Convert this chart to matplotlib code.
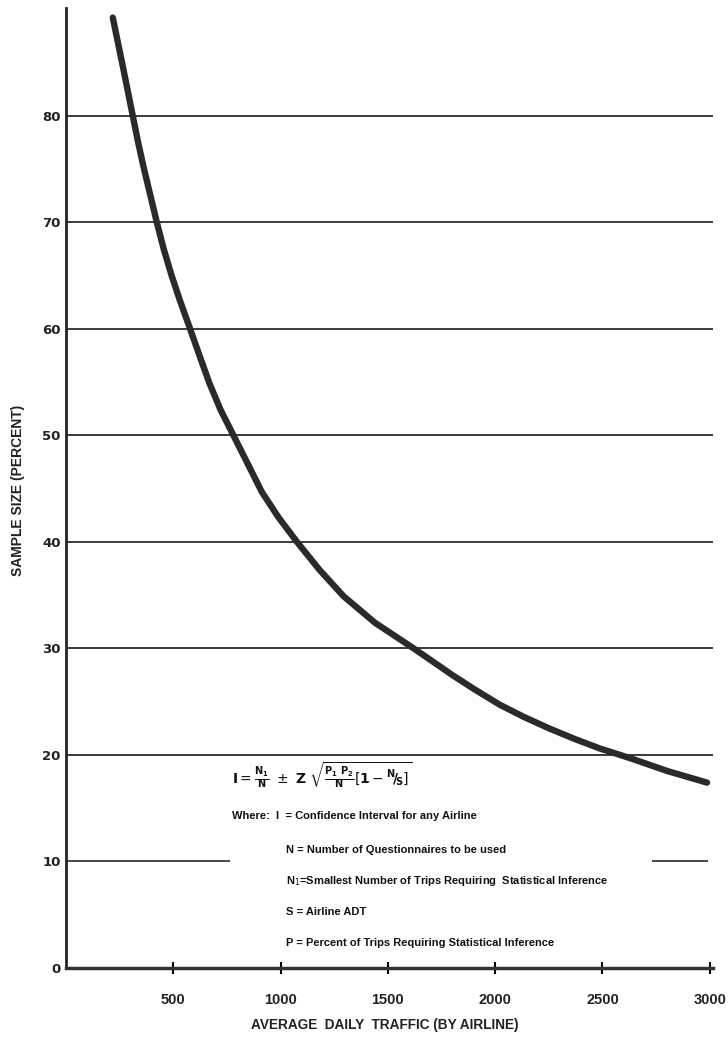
import matplotlib
matplotlib.use("Agg")
import matplotlib.pyplot as plt


# =========================
# 数据
# =========================

traffic = [218, 264, 311, 335, 360, 423, 455, 492, 530, 578, 620, 668,
           720, 780, 840, 912, 990, 1076, 1180, 1293, 1440, 1620, 1800,
           1900, 2022, 2130, 2250, 2370, 2488, 2582, 2650, 2800, 2987]
sample_size = [89.2, 84.7, 80, 77.6, 75.3, 70, 67.5, 65, 62.7, 60, 57.6,
               54.9, 52.4, 50, 47.6, 44.7, 42.3, 40, 37.4, 34.9, 32.4, 30,
               27.5, 26.2, 24.7, 23.6, 22.5, 21.5, 20.6, 20, 19.55, 18.5,
               17.4]

grid_levels = [20, 30, 40, 50, 60, 70, 80]
# 10% 线只画了两段
grid10_segments = [(0, 764), (2731, 2990)]

x_ticks = [500, 1000, 1500, 2000, 2500, 3000]
y_ticks = [0, 10, 20, 30, 40, 50, 60, 70, 80]

notes = [
    "Where:  I  = Confidence Interval for any Airline",
    "N = Number of Questionnaires to be used",
    "N$_1$=Smallest Number of Trips Requiring  Statistical Inference",
    "S = Airline ADT",
    "P = Percent of Trips Requiring Statistical Inference",
]

# =========================
# 绘图
# =========================

label_font = ["Liberation Sans", "DejaVu Sans"]
plt.rcParams["mathtext.fontset"] = "dejavusans"

fig = plt.figure(figsize=(7.28, 10.37), dpi=100)
ax = fig.add_axes([66 / 728, 1 - 968 / 1037, (713 - 66) / 728, 960 / 1037])

ax.set_xlim(0, 3015)
ax.set_ylim(0, 90.1)

for lvl in grid_levels:
    ax.axhline(lvl, color="#3a3a3a", linewidth=1.4, zorder=1)
for x0, x1 in grid10_segments:
    ax.hlines(10, x0, x1, color="#3a3a3a", linewidth=1.3, zorder=1)

ax.plot(traffic, sample_size, color="#2a2a2a", linewidth=4.6,
        solid_capstyle="round", solid_joinstyle="round", zorder=3)

# 坐标轴
for side in ["top", "right"]:
    ax.spines[side].set_visible(False)
ax.spines["left"].set_linewidth(2)
ax.spines["bottom"].set_linewidth(2.5)
ax.spines["left"].set_color("#222222")
ax.spines["bottom"].set_color("#333333")

ax.set_xticks(x_ticks)
ax.set_xticklabels([str(t) for t in x_ticks], family=label_font,
                   fontweight="bold", fontsize=10.5, color="#222222")
ax.set_yticks(y_ticks)
ax.set_yticklabels([str(t) for t in y_ticks], fontweight="bold", fontsize=9.5,
                   color="#222222")
ax.tick_params(axis="x", direction="inout", length=8, width=1.5, pad=14)
ax.tick_params(axis="y", length=0, pad=4)

fig.text(385 / 728, 1 - 1025 / 1037, "AVERAGE  DAILY  TRAFFIC (BY AIRLINE)",
         family=label_font, fontweight="bold", fontsize=9.8, ha="center",
         va="center", color="#222222")
fig.text(18 / 728, 1 - 490 / 1037, "SAMPLE SIZE (PERCENT)",
         family=label_font, fontweight="bold", fontsize=10, ha="center",
         va="center", rotation=90, color="#222222")

# 公式与说明
formula = (r"$\mathbf{I}=\frac{\mathbf{N_1}}{\mathbf{N}}\ \pm\ \mathbf{Z}\ "
           r"\sqrt{\frac{\mathbf{P_1\ P_2}}{\mathbf{N}}[\mathbf{1}-\mathbf{{}^N\!/\!_S}]}$")
fig.text(232 / 728, 1 - 775 / 1037, formula, fontsize=10, ha="left",
         va="center", color="#111111")

note_x = [232, 286, 286, 286, 286]
note_y = [816, 850, 881, 912, 943]
for txt, nx, ny in zip(notes, note_x, note_y):
    fig.text(nx / 728, 1 - ny / 1037, txt, family=label_font,
             fontweight="bold", fontsize=8, ha="left", va="center",
             color="#111111")

plt.savefig("out.png", dpi=100)
